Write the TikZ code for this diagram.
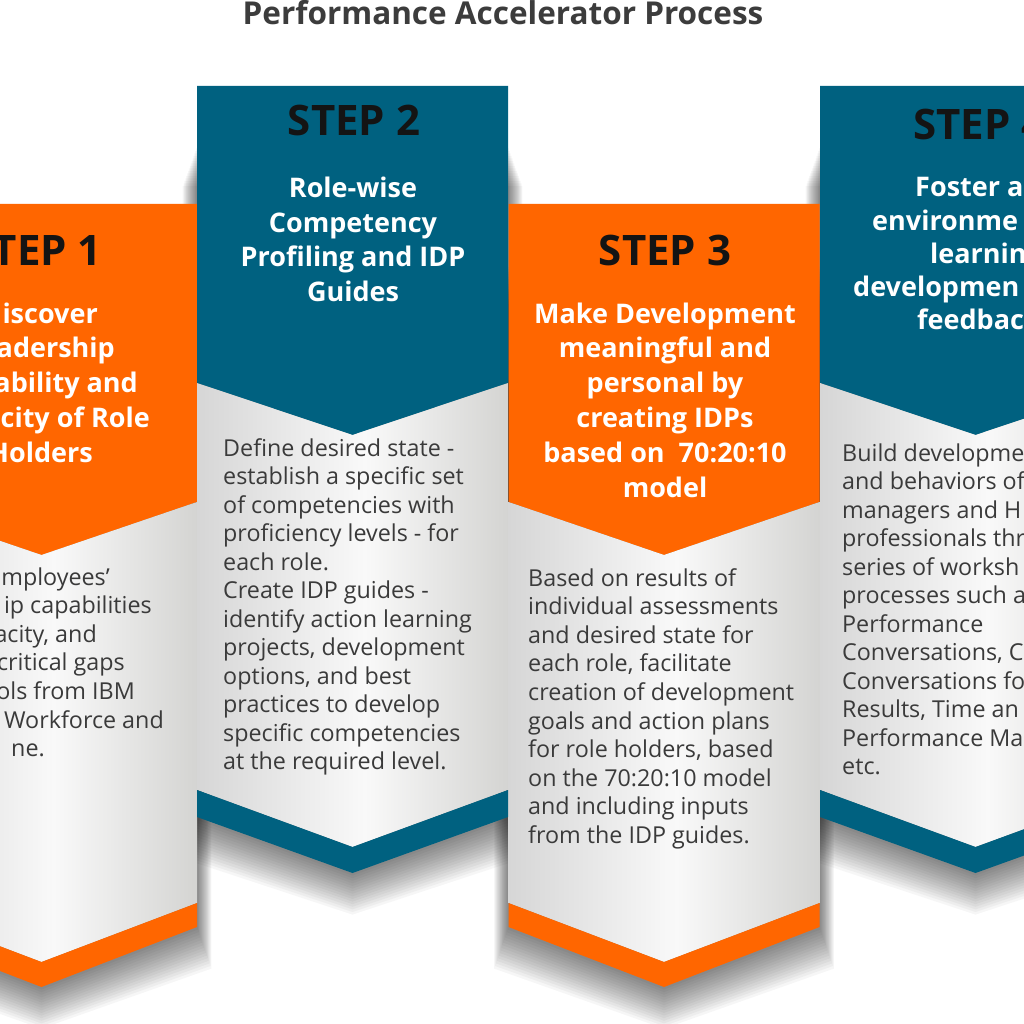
\documentclass[tikz,border=0pt]{standalone}
\usepackage{fontspec}
\setmainfont{Open Sans}
\usetikzlibrary{calc}
\definecolor{corange}{RGB}{255,102,0}
\definecolor{cblue}{RGB}{0,97,128}
\definecolor{ctext}{RGB}{58,58,58}
\definecolor{ctitle}{RGB}{60,60,60}
\definecolor{cgrayL}{RGB}{214,214,214}
\definecolor{cgrayM}{RGB}{249,249,249}
\definecolor{cgrayR}{RGB}{212,212,210}
\pgfdeclarehorizontalshading{cardbg}{100bp}{color(0bp)=(cgrayL); color(25bp)=(cgrayL); color(52bp)=(cgrayM); color(75bp)=(cgrayR); color(100bp)=(cgrayR)}
% #1 centre x, #2 top, #3 header edge, #4 header tip, #5 band top edge, #6 band top tip, #7 band bottom edge, #8 band bottom tip
\newcommand\cardshadow[8]{%
  \foreach \i in {1,...,16}{
    \fill[black, opacity=0.036] ({#1-155.5-\i*0.9},{#2+60+\i*2.5}) -- ({#1+155.5+\i*0.9},{#2+60+\i*2.5})
      -- ({#1+155.5+\i*0.9},{#7+\i*2.6}) -- ({#1},{#8+\i*2.6}) -- ({#1-155.5-\i*0.9},{#7+\i*2.6}) -- cycle;
  }}
\newcommand\cardshape[9]{%
  \fill[#9] ({#1-155.5},#2) -- ({#1+155.5},#2) -- ({#1+155.5},#3) -- (#1,#4) -- ({#1-155.5},#3) -- cycle;
  \shade[shading=cardbg] ({#1-155.5},#3) -- (#1,#4) -- ({#1+155.5},#3) -- ({#1+155.5},#5) -- (#1,#6) -- ({#1-155.5},#5) -- cycle;
  \fill[#9] ({#1-155.5},#5) -- (#1,#6) -- ({#1+155.5},#5) -- ({#1+155.5},#7) -- (#1,#8) -- ({#1-155.5},#7) -- cycle;
}
\tikzset{
  steplabel/.style={font=\bfseries\fontsize{42}{48}\selectfont, text=black!92, inner sep=0},
  subtitle/.style={font=\bfseries\fontsize{27}{34}\selectfont, text=white, inner sep=0},
  bodytext/.style={font=\fontsize{23.3}{28.5}\selectfont, text=ctext, inner sep=0},
  titletext/.style={font=\bfseries\fontsize{31.5}{36}\selectfont, text=ctitle, inner sep=0}
}
\begin{document}
\begin{tikzpicture}[x=1pt,y=-1pt]
\useasboundingbox (0,0) rectangle (1024,1024);
\clip (0,0) rectangle (1024,1024);
\fill[white] (0,0) rectangle (1024,1024);
% shadows
\cardshadow{41.5}{204}{502}{555}{903}{962}{927}{987}
\cardshadow{664}{204}{502}{555}{903}{962}{927}{987}
\cardshadow{352.5}{86}{383}{435}{790}{847}{817}{873}
\cardshadow{975.5}{86}{383}{435}{790}{847}{817}{873}
% cards
\cardshape{41.5}{204}{502}{555}{903}{962}{927}{987}{corange}
\cardshape{664}{204}{502}{555}{903}{962}{927}{987}{corange}
\cardshape{352.5}{86}{383}{435}{790}{847}{817}{873}{cblue}
\cardshape{975.5}{86}{383}{435}{790}{847}{817}{873}{cblue}
% title
\node[titletext, anchor=base] (title) at (503,25) {Performance Accelerator Process};
% step 1 (cut by the left edge)
\node[steplabel, anchor=base east] (s1step) at (102,265) {TEP 1};
\foreach \t/\r [count=\k from 0] in {iscover/98, adership/115, ability and/138, city of Role/150, Holders/93}
  \node[subtitle, anchor=base east] (s1h\k) at (\r,{323+34.8*\k}) {\t};
\foreach \t/\r [count=\k from 0] in {mployees’/110, ip capabilities/152, {acity, and}/97, critical gaps/125, ols from IBM/135, Workforce and/164, ne./45}
  \node[bodytext, anchor=base east] (s1b\k) at (\r,{585+28.6*\k}) {\t};
% step 2
\node[steplabel, anchor=base] (s2step) at (354,136) {STEP 2};
\foreach \t [count=\k from 0] in {Role-wise, Competency, Profiling and IDP, Guides}
  \node[subtitle, anchor=base] (s2h\k) at (353,{198+34.4*\k}) {\t};
\foreach \t [count=\k from 0] in {Define desired state -, establish a specific set, of competencies with, proficiency levels - for, each role., Create IDP guides -, identify action learning, {projects, development}, {options, and best}, practices to develop, specific competencies, at the required level.}
  \node[bodytext, anchor=base west] (s2b\k) at (223,{456+28.5*\k}) {\t};
% step 3
\node[steplabel, anchor=base] (s3step) at (665,265) {STEP 3};
\foreach \t [count=\k from 0] in {Make Development, meaningful and, personal by, creating IDPs, based on\ \ 70:20:10, model}
  \node[subtitle, anchor=base] (s3h\k) at (665,{323+34.8*\k}) {\t};
\foreach \t [count=\k from 0] in {Based on results of, individual assessments, and desired state for, {each role, facilitate}, creation of development, goals and action plans, {for role holders, based}, on the 70:20:10 model, and including inputs, from the IDP guides.}
  \node[bodytext, anchor=base west] (s3b\k) at (528,{586+28.6*\k}) {\t};
% step 4 (cut by the right edge)
\node[steplabel, anchor=base west] (s4step) at (913,140) {STEP 4};
\foreach \t/\l [count=\k from 0] in {Foster a/915, environme/872, learning/930, developmen/853, feedbac/917}
  \node[subtitle, anchor=base west] (s4h\k) at (\l,{197+33*\k}) {\t};
\foreach \t [count=\k from 0] in {Build developme, and behaviors of, managers and H, professionals thr, series of worksh, processes such a, Performance, {Conversations, C}, Conversations fo, {Results, Time an}, Performance Ma, etc.}
  \node[bodytext, anchor=base west] (s4b\k) at (842,{461+28.5*\k}) {\t};
\end{tikzpicture}
\end{document}
